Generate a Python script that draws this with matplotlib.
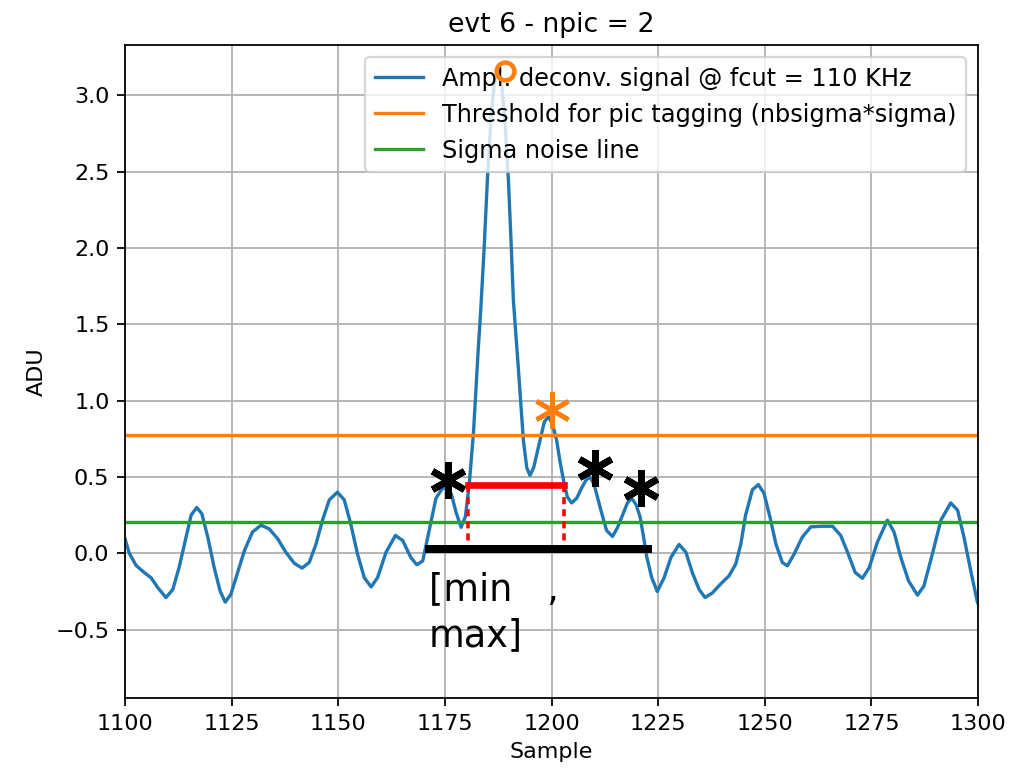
import matplotlib
matplotlib.use('Agg')
import matplotlib.pyplot as plt

# deconvolved signal (sample, ADU)
sample = [1100.0, 1101.0, 1102.6, 1104.5, 1106.1, 1107.7, 1109.6, 1111.2, 1112.7, 1114.3,
          1115.5, 1116.8, 1118.0, 1119.4, 1120.9, 1122.3, 1123.5, 1124.8, 1126.4, 1128.0,
          1129.9, 1131.9, 1133.8, 1135.8, 1137.7, 1139.7, 1141.5, 1143.2, 1144.8, 1146.3,
          1147.9, 1149.8, 1151.4, 1152.9, 1154.5, 1156.1, 1157.7, 1159.2, 1161.2, 1163.4,
          1165.1, 1167.0, 1168.4, 1169.8, 1171.3, 1172.9, 1174.3, 1175.5, 1176.5, 1177.6,
          1178.8, 1179.8, 1180.7, 1181.7, 1182.8, 1183.4, 1184.2, 1184.95, 1185.8, 1186.6,
          1187.4, 1188.3, 1189.1, 1189.9, 1190.5, 1191.05, 1192.2, 1193.4, 1194.2, 1194.95,
          1195.8, 1197.3, 1198.3, 1199.25, 1200.2, 1201.2, 1202.0, 1202.8, 1203.7, 1204.7,
          1205.9, 1207.1, 1208.1, 1209.0, 1210.0, 1211.4, 1212.9, 1214.3, 1215.5, 1216.8,
          1217.8, 1218.8, 1219.8, 1220.75, 1221.5, 1222.3, 1223.5, 1224.8, 1226.4, 1228.0,
          1229.9, 1231.5, 1233.0, 1234.6, 1236.0, 1237.7, 1239.7, 1241.6, 1243.2, 1244.4,
          1245.5, 1247.1, 1248.5, 1249.8, 1251.2, 1252.6, 1254.1, 1255.3, 1256.9, 1258.8,
          1260.8, 1263.4, 1265.9, 1267.8, 1269.4, 1271.2, 1272.9, 1274.5, 1276.4, 1278.75,
          1280.3, 1281.9, 1283.7, 1285.8, 1287.3, 1289.3, 1291.3, 1293.6, 1295.2, 1296.7,
          1298.3, 1299.8, 1300.0]
signal = [0.095, 0.0, -0.08, -0.126, -0.16, -0.226, -0.29, -0.237, -0.09, 0.106,
          0.25, 0.30, 0.26, 0.106, -0.093, -0.248, -0.32, -0.27, -0.126, 0.018,
          0.14, 0.184, 0.16, 0.095, 0.007, -0.066, -0.097, -0.06, 0.062, 0.217,
          0.35, 0.40, 0.35, 0.195, -0.004, -0.16, -0.22, -0.16, 0.007, 0.117,
          0.084, -0.027, -0.075, -0.05, 0.15, 0.36, 0.42, 0.44, 0.39, 0.27,
          0.17, 0.24, 0.45, 0.79, 1.33, 1.59, 2.0, 2.44, 2.85, 3.08,
          3.15, 3.08, 2.82, 2.44, 2.05, 1.66, 1.22, 0.74, 0.56, 0.51,
          0.56, 0.74, 0.86, 0.895, 0.85, 0.74, 0.60, 0.48, 0.37, 0.33,
          0.36, 0.43, 0.48, 0.50, 0.45, 0.30, 0.15, 0.11, 0.17, 0.26,
          0.33, 0.36, 0.32, 0.24, 0.12, -0.02, -0.16, -0.25, -0.16, -0.027,
          0.058, 0.007, -0.126, -0.237, -0.29, -0.26, -0.20, -0.148, -0.07, 0.062,
          0.25, 0.416, 0.45, 0.394, 0.24, 0.062, -0.06, -0.082, -0.004, 0.106,
          0.173, 0.177, 0.177, 0.117, 0.007, -0.126, -0.164, -0.093, 0.073, 0.217,
          0.14, -0.027, -0.18, -0.274, -0.215, -0.004, 0.217, 0.33, 0.283, 0.106,
          -0.115, -0.314, -0.33]

threshold = 0.775
sigma_noise = 0.205

main_pic = (1189.1, 3.16)
second_pic = (1200.1, 0.94)
other_x = [1175.8, 1210.2, 1220.9]
other_y = [0.48, 0.56, 0.43]

fwhm_range = (1180.5, 1202.9)
fwhm_level = 0.45
fwhm_floor = 0.07
window_range = (1171.3, 1222.7)
window_level = 0.03

fig = plt.figure(figsize=(6.4, 4.8375), dpi=160)
ax = fig.add_axes([0.1221, 0.0982, 0.833, 0.8437])

ax.plot(sample, signal, label='Ampl. deconv. signal @ fcut = 110 KHz')
ax.axhline(threshold, color='C1', label='Threshold for pic tagging (nbsigma*sigma)')
ax.axhline(sigma_noise, color='C2', label='Sigma noise line')

ax.plot(*main_pic, 'o', mfc='none', mec='C1', ms=8, mew=2, zorder=10)
ax.plot(*second_pic, marker=(6, 2, 0), color='C1', ms=16.5, mew=2.1)
ax.plot(other_x, other_y, ls='none', marker=(6, 2, 0), color='k', ms=16.5, mew=3)

ax.plot(fwhm_range, [fwhm_level, fwhm_level], color='r', lw=3)
for xv in fwhm_range:
    ax.plot([xv, xv], [fwhm_level, fwhm_floor], color='r', lw=1.6, dashes=(2, 1.4))
ax.plot(window_range, [window_level, window_level], color='k', lw=3.6)
ax.text(window_range[0], -0.12, '[min   ,\nmax]', fontsize=16.5, va='top', ha='left',
        linespacing=1.3)

ax.set_xlim(1100, 1300)
ax.set_ylim(-0.948, 3.33)
ax.set_xlabel('Sample')
ax.set_ylabel('ADU')
ax.set_title('evt 6 - npic = 2')
ax.grid(True)
ax.legend(loc='upper right', fontsize=10.8)

fig.savefig('out.png', dpi=160)
